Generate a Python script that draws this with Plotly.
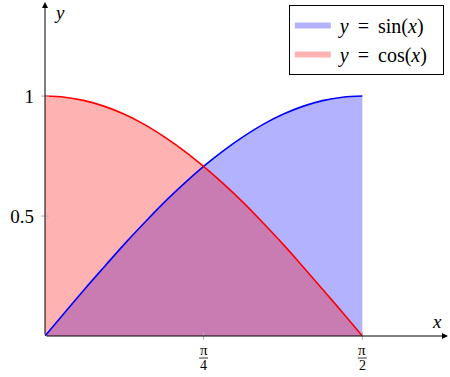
import plotly.graph_objects as go

# data (y = sin(x), y = cos(x) on [0, pi/2])
x_vals = [0.000, 0.098, 0.196, 0.295, 0.393, 0.491, 0.589, 0.687, 0.785,
          0.884, 0.982, 1.080, 1.178, 1.276, 1.374, 1.473, 1.571]
sin_vals = [0.000, 0.098, 0.195, 0.290, 0.383, 0.471, 0.556, 0.634, 0.707,
            0.773, 0.831, 0.882, 0.924, 0.957, 0.981, 0.995, 1.000]
cos_vals = [1.000, 0.995, 0.981, 0.957, 0.924, 0.882, 0.831, 0.773, 0.707,
            0.634, 0.556, 0.471, 0.383, 0.290, 0.195, 0.098, 0.000]
x_ticks = [0.785, 1.571]
x_tick_num = ["π", "π"]
x_tick_den = ["4", "2"]
y_ticks = [0.5, 1]
y_tick_labels = ["0.5", "1"]
series_names = ["\u2009<i>y</i>\u00a0\u2009=\u00a0\u2009sin(<i>x</i>)\u2002",
                "\u2009<i>y</i>\u00a0\u2009=\u00a0\u2009cos(<i>x</i>)\u2002"]

XMAX, YMAX = 1.995, 1.392
FONT = "Liberation Serif"

fig = go.Figure()
fig.add_trace(go.Scatter(x=x_vals, y=sin_vals, mode="none", fill="tozeroy",
                         fillcolor="rgba(0,0,255,0.3)", name=series_names[0],
                         line_shape="spline"))
fig.add_trace(go.Scatter(x=x_vals, y=cos_vals, mode="none", fill="tozeroy",
                         fillcolor="rgba(255,0,0,0.3)", name=series_names[1],
                         line_shape="spline"))
fig.add_trace(go.Scatter(x=x_vals, y=sin_vals, mode="lines", showlegend=False,
                         line=dict(color="#0000ff", width=1.6, shape="spline")))
fig.add_trace(go.Scatter(x=x_vals, y=cos_vals, mode="lines", showlegend=False,
                         line=dict(color="#ff0000", width=1.6, shape="spline")))

shapes = []
annotations = []
# tick marks (paper refs on the crossing axis so they are not clipped)
for xv in x_ticks:
    shapes.append(dict(type="line", xref="x", yref="paper", ysizemode="pixel", yanchor=0,
                       x0=xv, x1=xv, y0=-4, y1=4, line=dict(color="#b0b0b0", width=1)))
for yv in y_ticks:
    shapes.append(dict(type="line", xref="paper", yref="y", xsizemode="pixel", xanchor=0,
                       x0=-4, x1=4, y0=yv, y1=yv, line=dict(color="#b0b0b0", width=1)))
# fraction tick labels on x
for xv, n, d in zip(x_ticks, x_tick_num, x_tick_den):
    annotations.append(dict(x=xv, y=0, xref="x", yref="y", text=n, showarrow=False,
                            yanchor="middle", yshift=-14,
                            font=dict(family=FONT, size=15, color="black")))
    annotations.append(dict(x=xv, y=0, xref="x", yref="y", text=d, showarrow=False,
                            yanchor="middle", yshift=-29,
                            font=dict(family=FONT, size=14, color="black")))
    shapes.append(dict(type="line", xref="x", yref="paper", xsizemode="pixel", ysizemode="pixel",
                       xanchor=xv, yanchor=0, x0=-4.5, x1=4.5, y0=-22, y1=-22,
                       line=dict(color="black", width=0.8)))
# axis lines with arrows
annotations.append(dict(x=XMAX, y=0, ax=0, ay=0, xref="x", yref="y", axref="x", ayref="y",
                        showarrow=True, arrowhead=2, arrowsize=1.2, arrowwidth=1,
                        arrowcolor="black", text=""))
annotations.append(dict(x=0, y=YMAX, ax=0, ay=0, xref="x", yref="y", axref="x", ayref="y",
                        showarrow=True, arrowhead=2, arrowsize=1.2, arrowwidth=1,
                        arrowcolor="black", text=""))
# axis labels
annotations.append(dict(x=0, y=YMAX, xref="x", yref="y", text="<i>y</i>", showarrow=False,
                        xanchor="left", yanchor="top", xshift=7, yshift=2,
                        font=dict(family=FONT, size=19, color="black")))
annotations.append(dict(x=XMAX, y=0, xref="x", yref="y", text="<i>x</i>", showarrow=False,
                        xanchor="right", yanchor="bottom", xshift=-4, yshift=2,
                        font=dict(family=FONT, size=19, color="black")))

fig.update_layout(
    width=450, height=377,
    margin=dict(l=45, r=2, t=2, b=41),
    paper_bgcolor="white", plot_bgcolor="white",
    showlegend=True,
    legend=dict(x=0.605, y=0.991, xanchor="left", yanchor="top",
                bordercolor="black", borderwidth=1, bgcolor="white",
                font=dict(family=FONT, size=20, color="black"),
                tracegroupgap=0, itemwidth=36),
    shapes=shapes, annotations=annotations,
    xaxis=dict(range=[0, XMAX], showgrid=False, zeroline=False, showline=False,
               tickvals=x_ticks, ticktext=["", ""], ticks="", fixedrange=True),
    yaxis=dict(range=[0, YMAX], showgrid=False, zeroline=False, showline=False,
               tickvals=y_ticks, ticktext=y_tick_labels, ticks="",
               ticklabelstandoff=10,
               tickfont=dict(family=FONT, size=19, color="black"), fixedrange=True),
)

fig.write_html("out.html")
